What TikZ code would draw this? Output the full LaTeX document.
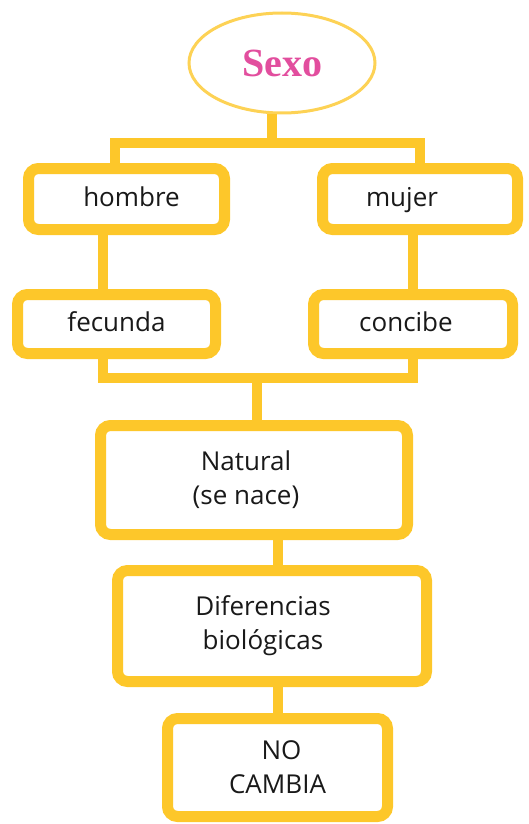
\documentclass[tikz,border=0pt]{standalone}
\usepackage{fontspec}
\setmainfont{Open Sans}
\newfontfamily\sexofont{Liberation Serif}
\usepackage{tikz}
\usetikzlibrary{shapes.geometric}

\definecolor{amarillo}{HTML}{FDC72A}
\definecolor{rosa}{HTML}{E24E9E}

\begin{document}
\begin{tikzpicture}[x=1pt, y=-1pt,
  caja/.style={draw=amarillo, line width=11pt, rounded corners=10pt, fill=white,
    inner sep=0pt, align=center, font=\fontsize{26}{34}\selectfont, text=black!90},
  corta/.style={caja, text height=18pt, text depth=4pt},
  link/.style={draw=amarillo, line width=10pt}]

\useasboundingbox (0,0) rectangle (529,824);

\node[draw=amarillo!80, line width=3pt, shape=ellipse, minimum width=186pt, minimum height=100pt,
  inner sep=0pt, text=rosa, font=\sexofont\bfseries\fontsize{40}{40}\selectfont] (sexo) at (282,63) {Sexo};

\node[corta, minimum width=196pt, minimum height=61pt] (hombre) at (126.5,199) {\hspace*{10pt}hombre};
\node[corta, minimum width=195pt, minimum height=61pt] (mujer) at (420,199) {mujer\hspace*{36pt}};
\node[corta, minimum width=198pt, minimum height=59pt] (fecunda) at (116.5,324) {fecunda};
\node[corta, minimum width=199pt, minimum height=59pt] (concibe) at (413,324) {concibe\hspace*{14pt}};
\node[caja, minimum width=307pt, minimum height=109pt] (natural) at (254,480) {Natural\hspace*{16pt}\\(se nace)\hspace*{16pt}};
\node[caja, minimum width=309pt, minimum height=111pt] (diferencias) at (272,626) {Diferencias\hspace*{18pt}\\biológicas\hspace*{18pt}};
\node[caja, minimum width=220pt, minimum height=98pt] (nocambia) at (277.5,767.5) {\hspace*{8pt}NO\\CAMBIA};

\coordinate (arriba) at (272,143);
\coordinate (izq) at (115,143);
\coordinate (der) at (420,143);
\coordinate (abajoizq) at (103,378);
\coordinate (centro) at (257,378);

\draw[link] (arriba) -- (arriba |- sexo.south);
\draw[link] (hombre.north -| izq) |- (der) -- (mujer.north -| der);
\draw[link] (hombre.south -| abajoizq) -- (fecunda.north -| abajoizq);
\draw[link] (mujer.south -| concibe.south) -- (concibe.north);
\draw[link] (fecunda.south -| abajoizq) |- (concibe.south |- abajoizq) -- (concibe.south);
\draw[link] (centro) -- (centro |- natural.north);
\draw[link] (natural.south -| nocambia.north) -- (diferencias.north -| nocambia.north);
\draw[link] (diferencias.south -| nocambia.north) -- (nocambia.north);
\end{tikzpicture}
\end{document}
